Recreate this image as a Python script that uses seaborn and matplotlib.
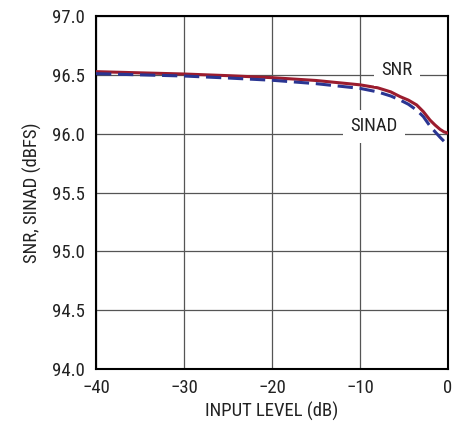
import matplotlib
matplotlib.use("Agg")
import matplotlib.pyplot as plt
import seaborn as sns
import pandas as pd
from matplotlib import font_manager

input_level = [-40, -35, -30, -25, -20, -15, -10, -8, -6.5, -5.45, -4.5, -3.56, -2.8, -2.05, -1.48, -0.91, -0.45, 0]
snr = [96.527, 96.517, 96.507, 96.493, 96.476, 96.452, 96.415, 96.39, 96.355, 96.315, 96.285, 96.244, 96.187, 96.116, 96.074, 96.037, 96.015, 96.005]
sinad = [96.51, 96.50, 96.49, 96.473, 96.454, 96.425, 96.385, 96.355, 96.32, 96.286, 96.25, 96.20, 96.145, 96.065, 96.017, 95.97, 95.935, 95.905]

yticks = [94.0, 94.5, 95.0, 95.5, 96.0, 96.5, 97.0]
xticks = [-40, -30, -20, -10, 0]
xticklabels = ["\u221240", "\u221230", "\u221220", "\u221210", "0"]

sns.set_theme(style="white")
names = {f.name for f in font_manager.fontManager.ttflist}
fam = ["DejaVu Sans"]
for cand in ["Roboto Condensed", "Archivo Narrow", "Liberation Sans"]:
    if cand in names:
        fam = [cand, "DejaVu Sans"]
        break
plt.rcParams["font.family"] = fam

FS = 13.5
TC = "#222222"

df = pd.DataFrame({
    "x": input_level * 2,
    "y": snr + sinad,
    "series": ["SNR"] * len(snr) + ["SINAD"] * len(sinad),
})

fig = plt.figure(figsize=(4.64, 4.21), dpi=100)
ax = fig.add_axes([0.207, 0.1235, 0.7585, 0.8385])

sns.lineplot(data=df, x="x", y="y", hue="series", style="series",
             palette={"SNR": "#9b1c2e", "SINAD": "#2a3592"},
             dashes={"SNR": "", "SINAD": (5, 2.2)},
             linewidth=2.2, ax=ax, legend=False, zorder=3)

ax.set_xlim(-40, 0)
ax.set_ylim(94, 97)
ax.set_xticks(xticks)
ax.set_xticklabels(xticklabels)
ax.set_yticks(yticks)
ax.set_yticklabels([f"{v:.1f}" for v in yticks])
ax.tick_params(axis="x", length=0, labelsize=FS, colors=TC, pad=7)
ax.tick_params(axis="y", length=0, labelsize=FS, colors=TC, pad=8)
ax.grid(True, color="#555555", linewidth=0.9)
for s in ax.spines.values():
    s.set_color("black")
    s.set_linewidth(1.5)
ax.set_xlabel("INPUT LEVEL (dB)", fontsize=FS, color=TC, labelpad=4)
ax.set_ylabel("SNR, SINAD (dBFS)", fontsize=FS, color=TC, labelpad=7)

bbox = dict(facecolor="white", edgecolor="none", boxstyle="square,pad=0.4")
ax.text(-5.8, 96.545, "SNR", fontsize=FS, color=TC, ha="center", va="center", bbox=bbox, zorder=4)
ax.text(-8.4, 96.065, "SINAD", fontsize=FS, color=TC, ha="center", va="center", bbox=bbox, zorder=4)

fig.savefig("out.png", dpi=100)
